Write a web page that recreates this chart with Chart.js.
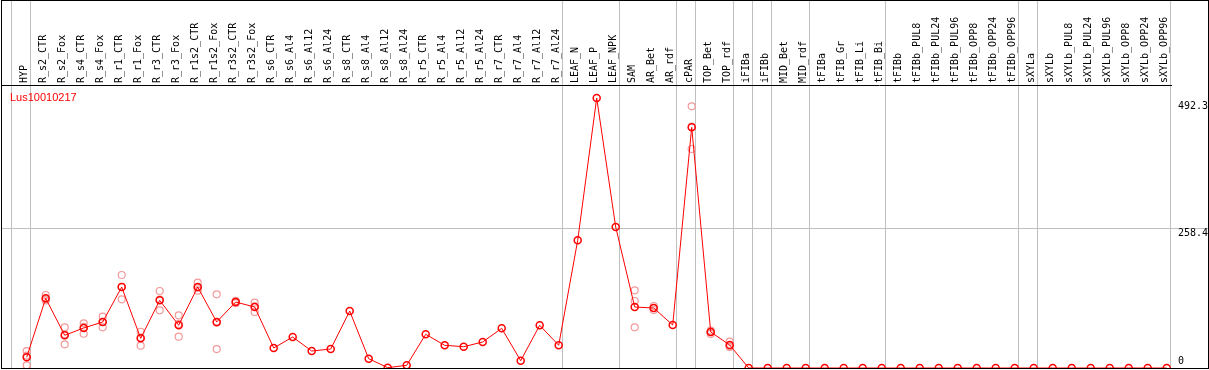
<!DOCTYPE html>
<html>
<head>
<meta charset="utf-8">
<script src="https://cdn.jsdelivr.net/npm/chart.js@4.4.1/dist/chart.umd.min.js"></script>
<style>
  html, body { margin: 0; padding: 0; background: #fff; }
  #frame { position: absolute; left: 1px; top: 0; width: 1206px; height: 367px; border: 1px solid #000; }
  #chart { display: block; }
</style>
</head>
<body>
<div id="frame"><canvas id="chart" width="1206" height="367"></canvas></div>
<script>
/* DATA */
const geneName = "Lus10010217";

const categories = [
    "HYP", "R_s2_CTR", "R_s2_Fox", "R_s4_CTR", "R_s4_Fox", "R_r1_CTR", "R_r1_Fox",
    "R_r3_CTR", "R_r3_Fox", "R_r1s2_CTR", "R_r1s2_Fox", "R_r3s2_CTR", "R_r3s2_Fox",
    "R_s6_CTR", "R_s6_Al4", "R_s6_Al12", "R_s6_Al24", "R_s8_CTR", "R_s8_Al4",
    "R_s8_Al12", "R_s8_Al24", "R_r5_CTR", "R_r5_Al4", "R_r5_Al12", "R_r5_Al24",
    "R_r7_CTR", "R_r7_Al4", "R_r7_Al12", "R_r7_Al24", "LEAF_N", "LEAF_P", "LEAF_NPK",
    "SAM", "AR_Bet", "AR_rdf", "cPAR", "TOP_Bet", "TOP_rdf", "iFIBa", "iFIBb",
    "MID_Bet", "MID_rdf", "tFIBa", "tFIB_Gr", "tFIB_Li", "tFIB_Bi", "tFIBb",
    "tFIBb_PUL8", "tFIBb_PUL24", "tFIBb_PUL96", "tFIBb_OPP8", "tFIBb_OPP24", "tFIBb_OPP96",
    "sXYLa", "sXYLb", "sXYLb_PUL8", "sXYLb_PUL24", "sXYLb_PUL96", "sXYLb_OPP8",
    "sXYLb_OPP24", "sXYLb_OPP96"
];

// mean expression per sample
const means = [
    19.8, 128.9, 60.5, 74.0, 85.1, 149.8, 54.9, 125.2, 79.0, 149.8, 85.1, 122.1, 112.8,
    37.0, 57.3, 31.4, 35.1, 105.4, 17.2, 0.6, 5.0, 62.3, 42.0, 39.4, 48.1,
    73.4, 13.5, 79.0, 42.0, 236.2, 499.4, 260.8,
    112.8, 111.0, 79.5, 445.2, 66.6, 42.5, 0, 0,
    0, 0, 0, 0, 0, 0, 0,
    0, 0, 0, 0, 0, 0,
    0, 0, 0, 0, 0, 0, 0, 0
];

// individual replicates (null = not visible)
const rep1 = [
    31.4, 135.0, 75.3, 82.7, 94.9, 172.0, 67.1, 142.4, 97.5, 157.8, 136.3, 124.0, 120.8,
    null, null, null, null, null, null, null, null, null, null, null, null,
    null, null, null, null, null, null, null,
    143.7, 114.7, null, 484.1, 69.0, 48.7, null, null,
    null, null, null, null, null, null, null,
    null, null, null, null, null, null,
    null, null, null, null, null, null, null, null
];
const rep2 = [
    5.0, 127.0, 43.8, 63.4, 75.3, 127.1, 41.3, 106.7, 57.9, 143.0, 35.1, 122.0, 103.6,
    null, null, null, null, null, null, null, null, null, null, null, null,
    null, null, null, null, null, null, null,
    123.9, 107.3, null, 405.1, 63.0, 40.0, null, null,
    null, null, null, null, null, null, null,
    null, null, null, null, null, null,
    null, null, null, null, null, null, null, null
];
const rep3 = [
    23.0, 125.0, 62.4, 75.9, 85.1, 150.3, 56.3, 126.5, 81.6, 148.6, 83.9, 120.0, 114.0,
    null, null, null, null, null, null, null, null, null, null, null, null,
    null, null, null, null, null, null, null,
    75.3, 111.0, null, 446.4, 67.0, 39.0, null, null,
    null, null, null, null, null, null, null,
    null, null, null, null, null, null,
    null, null, null, null, null, null, null, null
];

// last sample index of each group (separator lines)
const groupEnds = [-1, 0, 28, 31, 34, 35, 37, 38, 39, 41, 45, 52, 53, 60];
const yTicks = [0, 258.4, 492.3];

/* LAYOUT */
const X_MIN = -1.3;
const X_MAX = 60.226;
const GRID_SHIFT = 0.21;
const Y_MAX = 523.5;
const GREY = "#c0c0c0";
const NONE = "rgba(0,0,0,0)";
const MONO = { family: "DejaVu Sans Mono", size: 10 };

function toPoints(arr) {
    return arr.map((v, i) => ({ x: i, y: v })).filter(p => p.y !== null);
}

const nameLabel = {
    id: "nameLabel",
    afterDatasetsDraw(chart) {
        const c = chart.ctx, a = chart.chartArea;
        c.save();
        c.font = '11px "Liberation Sans"';
        c.fillStyle = "#ff0000";
        c.textBaseline = "middle";
        c.fillText(chart.data.datasets[0].label, a.left + 8, a.top + 13);
        c.restore();
    }
};

new Chart(document.getElementById("chart"), {
    type: "line",
    data: {
        datasets: [
            {
                label: geneName,
                data: toPoints(means),
                borderColor: "#ff0000",
                borderWidth: 1,
                pointRadius: 3.5,
                pointBorderWidth: 1.5,
                pointBorderColor: "#ff0000",
                pointBackgroundColor: NONE,
                tension: 0
            },
            {
                label: "replicates",
                data: toPoints(rep1).concat(toPoints(rep2), toPoints(rep3)),
                showLine: false,
                pointRadius: 3.5,
                pointBorderWidth: 1.2,
                pointBorderColor: "#f29a9a",
                pointBackgroundColor: NONE
            }
        ]
    },
    options: {
        responsive: false,
        animation: false,
        devicePixelRatio: 1,
        layout: { padding: 0, autoPadding: false },
        plugins: { legend: { display: false }, tooltip: { enabled: false } },
        scales: {
            x: {
                type: "linear",
                position: "top",
                min: X_MIN,
                max: X_MAX,
                afterBuildTicks: s => {
                    const t = categories.map((c, i) => ({ value: i }))
                        .concat(groupEnds.map(g => ({ value: g + GRID_SHIFT })));
                    s.ticks = t.sort((a, b) => a.value - b.value);
                },
                afterFit: s => {
                    s.height = 84;
                    s.paddingLeft = 0;
                    s.paddingRight = 0;
                },
                ticks: {
                    autoSkip: false,
                    minRotation: 90,
                    maxRotation: 90,
                    padding: -82,
                    labelOffset: 10,
                    font: MONO,
                    color: "#000",
                    callback: v => Number.isInteger(v) ? categories[v] : ""
                },
                grid: {
                    color: c => (c.tick && !Number.isInteger(c.tick.value)) ? GREY : NONE,
                    tickLength: 84,
                    lineWidth: 1
                },
                border: { display: true, color: "#000" }
            },
            y: {
                position: "right",
                min: 0,
                max: Y_MAX,
                afterBuildTicks: s => { s.ticks = yTicks.map(v => ({ value: v })); },
                afterFit: s => {
                    s.width = 37;
                    s.paddingTop = 0;
                    s.paddingBottom = 0;
                },
                ticks: {
                    padding: -30,
                    labelOffset: 5,
                    crossAlign: "near",
                    font: MONO,
                    color: "#000",
                    callback: v => v === 0 ? ["0", "", ""] : String(v)
                },
                grid: {
                    color: c => (c.tick && c.tick.value === 258.4) ? GREY : NONE,
                    tickLength: 37
                },
                border: { display: false }
            }
        }
    },
    plugins: [nameLabel]
});
</script>
</body>
</html>
